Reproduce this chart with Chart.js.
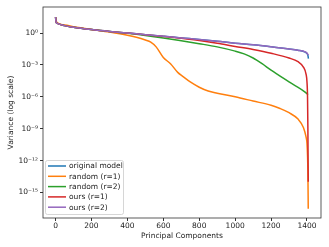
<!DOCTYPE html>
<html lang="en">
<head>
  <meta charset="UTF-8">
  <title>Variance per principal component</title>
  <script src="https://cdn.jsdelivr.net/npm/chart.js"></script>
  <style>
    html, body { margin: 0; padding: 0; background: #fff; }
    #wrap { width: 329px; height: 247px; }
  </style>
</head>
<body>
  <div id="wrap"><canvas id="grafico" width="329" height="247"></canvas></div>

  <script>
    // values (variance, log scale)
    const labels = ['original model', 'random (r=1)', 'random (r=2)', 'ours (r=1)', 'ours (r=2)'];
    const colors = ['#1f77b4', '#ff7f0e', '#2ca02c', '#d62728', '#9467bd'];

    const xOrig = [0, 3, 10, 50, 100, 200, 300, 400, 500, 600, 700, 800, 900, 1000, 1100, 1200, 1300, 1350, 1390, 1400, 1405, 1408];
    const yOrig = [3.2e1, 1.1e1, 8e0, 5e0, 3.5e0, 2.1e0, 1.4e0, 1e0, 7e-1, 5e-1, 3.5e-1, 2.5e-1, 1.7e-1, 1.1e-1, 8e-2, 5.2e-2, 3.2e-2, 2.4e-2, 1.6e-2, 1.2e-2, 8e-3, 4e-3];

    const xRand1 = [0, 3, 50, 100, 200, 300, 400, 450, 500, 530, 560, 600, 640, 680, 710, 750, 800, 850, 900, 1000, 1100, 1200, 1250, 1300, 1350, 1380, 1395, 1400, 1403, 1405, 1407];
    const yRand1 = [3.2e1, 1.2e1, 5.6e0, 4e0, 2.2e0, 1.25e0, 6.3e-1, 4e-1, 2.2e-1, 1.4e-1, 5e-2, 5e-3, 1.3e-3, 2e-4, 8e-5, 2.5e-5, 8e-6, 3.5e-6, 2.2e-6, 1e-6, 4e-7, 1.6e-7, 8e-8, 3.2e-8, 8e-9, 1.3e-9, 1.6e-10, 4e-11, 3e-12, 1e-13, 3e-17];

    const xRand2 = [0, 3, 10, 50, 100, 200, 300, 400, 500, 600, 700, 800, 900, 1000, 1050, 1100, 1150, 1200, 1300, 1400, 1405];
    const yRand2 = [3.2e1, 1.1e1, 8e0, 5e0, 3.5e0, 2.1e0, 1.4e0, 9.5e-1, 6e-1, 3.5e-1, 1.9e-1, 1e-1, 5e-2, 2e-2, 1.1e-2, 4.5e-3, 1.3e-3, 3.2e-4, 2.5e-5, 2e-6, 1.6e-6];

    const xOurs1 = [0, 3, 10, 50, 100, 200, 300, 400, 500, 600, 700, 800, 900, 1000, 1100, 1200, 1300, 1350, 1380, 1395, 1400, 1403, 1405, 1406, 1407];
    const yOurs1 = [3.2e1, 1.1e1, 8e0, 5e0, 3.5e0, 2.1e0, 1.4e0, 1e0, 7e-1, 4.8e-1, 3.2e-1, 2e-1, 1.1e-1, 5.5e-2, 2.8e-2, 1.25e-2, 4.5e-3, 2e-3, 6.3e-4, 1.3e-4, 2.5e-5, 1e-6, 1e-9, 1e-12, 1e-14];

    const xOurs2 = [0, 3, 10, 50, 100, 200, 300, 400, 500, 600, 700, 800, 900, 1000, 1100, 1200, 1300, 1350, 1390, 1400, 1405, 1407];
    const yOurs2 = [3.2e1, 1.1e1, 8e0, 5e0, 3.5e0, 2.1e0, 1.4e0, 1e0, 7e-1, 5e-1, 3.5e-1, 2.5e-1, 1.7e-1, 1.1e-1, 8e-2, 5.2e-2, 3.2e-2, 2.4e-2, 1.7e-2, 1.3e-2, 1e-2, 8e-3];

    const xTicks = [0, 200, 400, 600, 800, 1000, 1200, 1400];
    const yTicks = [1e-15, 1e-12, 1e-9, 1e-6, 1e-3, 1];
    const yTickLabels = ['10⁻¹⁵', '10⁻¹²', '10⁻⁹', '10⁻⁶', '10⁻³', '10⁰'];

    const seriesX = [xOrig, xRand1, xRand2, xOurs1, xOurs2];
    const seriesY = [yOrig, yRand1, yRand2, yOurs1, yOurs2];

    const fuente = "'DejaVu Sans', sans-serif";
    Chart.defaults.font.family = fuente;
    Chart.defaults.font.size = 7.5;
    Chart.defaults.color = '#222';

    // box around the plot like matplotlib spines
    const marco = {
      id: 'marco',
      afterDraw(chart) {
        const { ctx, chartArea: a } = chart;
        ctx.save();
        ctx.strokeStyle = '#333';
        ctx.lineWidth = 0.8;
        ctx.strokeRect(a.left, a.top, a.right - a.left, a.bottom - a.top);
        ctx.restore();
      }
    };

    // legend drawn inside the plot, lower left
    const leyenda = {
      id: 'leyenda',
      afterDatasetsDraw(chart) {
        const { ctx, chartArea: a } = chart;
        const x = a.left + 2, w = 78, h = 54, y = a.bottom - 4 - h;
        ctx.save();
        ctx.fillStyle = 'rgba(255,255,255,0.8)';
        ctx.strokeStyle = '#ccc';
        ctx.lineWidth = 0.8;
        ctx.beginPath();
        ctx.roundRect(x + 0.5, y + 0.5, w, h, 2);
        ctx.fill();
        ctx.stroke();
        ctx.font = '7.5px ' + fuente;
        ctx.textBaseline = 'middle';
        chart.data.datasets.forEach((ds, i) => {
          const ry = y + 6 + i * 10.3;
          ctx.strokeStyle = ds.borderColor;
          ctx.lineWidth = 1.5;
          ctx.beginPath();
          ctx.moveTo(x + 3, ry);
          ctx.lineTo(x + 21, ry);
          ctx.stroke();
          ctx.fillStyle = '#222';
          ctx.fillText(ds.label, x + 24, ry + 0.5);
        });
        ctx.restore();
      }
    };

    const ctx = document.getElementById('grafico').getContext('2d');
    new Chart(ctx, {
      type: 'line',
      data: {
        datasets: labels.map((label, i) => ({
          label: label,
          data: seriesX[i].map((x, j) => ({ x: x, y: seriesY[i][j] })),
          borderColor: colors[i],
          backgroundColor: colors[i],
          borderWidth: 1.5,
          pointRadius: 0,
          fill: false,
          cubicInterpolationMode: 'monotone',
          order: labels.length - i
        }))
      },
      options: {
        responsive: false,
        animation: false,
        layout: { padding: { top: 7, right: 8, left: 0, bottom: 0 } },
        plugins: { legend: { display: false }, tooltip: { enabled: false } },
        scales: {
          x: {
            type: 'linear',
            min: -70,
            max: 1478,
            afterBuildTicks: s => { s.ticks = xTicks.map(v => ({ value: v })); },
            afterFit: s => { s.height = 29; },
            grid: { display: true, drawOnChartArea: false, drawTicks: true, tickLength: 3, color: '#333' },
            border: { display: false },
            ticks: { maxRotation: 0, padding: 1, color: '#222', callback: v => String(v) },
            title: { display: true, text: 'Principal Components', padding: { top: 0, bottom: 6 }, color: '#222' }
          },
          y: {
            type: 'logarithmic',
            min: Math.pow(10, -17.4),
            max: Math.pow(10, 2.45),
            afterBuildTicks: s => { s.ticks = yTicks.map(v => ({ value: v })); },
            afterFit: s => { s.width = 43; },
            grid: { display: true, drawOnChartArea: false, drawTicks: true, tickLength: 3, color: '#333' },
            border: { display: false },
            ticks: {
              padding: 2,
              color: '#222',
              callback: v => {
                const k = yTicks.findIndex(t => Math.abs(Math.log10(t) - Math.log10(v)) < 1e-6);
                return k >= 0 ? yTickLabels[k] : '';
              }
            },
            title: { display: true, text: 'Variance (log scale)', padding: { top: 7, bottom: 0 }, color: '#222' }
          }
        }
      },
      plugins: [marco, leyenda]
    });
  </script>
</body>
</html>
